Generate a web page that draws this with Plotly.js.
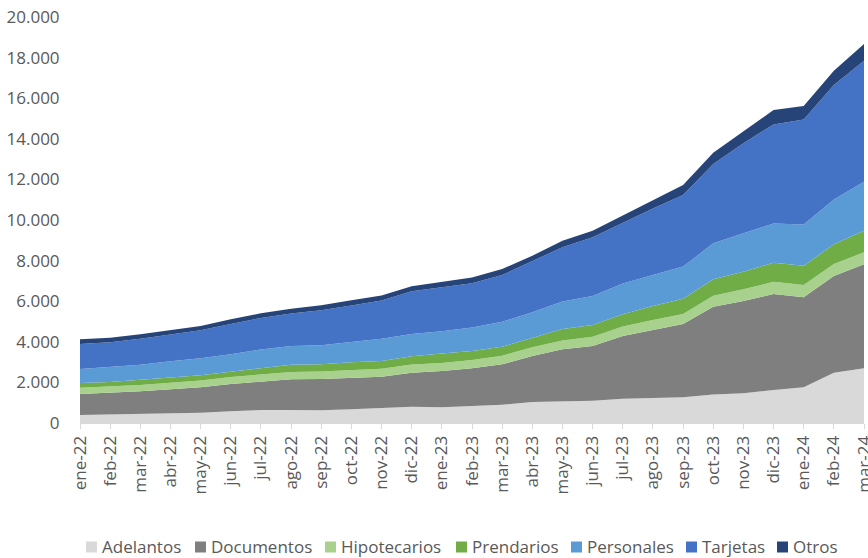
<!DOCTYPE html>
<html>
<head>
<meta charset="utf-8">
<script src="https://cdn.plot.ly/plotly-3.0.1.min.js"></script>
<style>
html,body{margin:0;padding:0;background:#fff;}
#chart{width:868px;height:558px;}
</style>
</head>
<body>
<div id="chart"></div>
<script>
var months = ["ene-22","feb-22","mar-22","abr-22","may-22","jun-22","jul-22","ago-22","sep-22","oct-22","nov-22","dic-22",
              "ene-23","feb-23","mar-23","abr-23","may-23","jun-23","jul-23","ago-23","sep-23","oct-23","nov-23","dic-23",
              "ene-24","feb-24","mar-24"];

var adelantos    = [400,430,440,480,510,575,640,640,625,675,755,805,770,850,900,1035,1050,1100,1200,1245,1265,1410,1460,1625,1755,2480,2695];
var documentos   = [1030,1050,1120,1180,1250,1345,1395,1510,1545,1540,1525,1675,1790,1845,1990,2265,2580,2695,3080,3335,3610,4320,4550,4730,4435,4760,5120];
var hipotecarios = [310,310,315,325,335,345,350,360,370,385,395,400,400,410,425,430,435,455,475,490,500,540,575,600,605,590,595];
var prendarios   = [230,230,250,245,260,265,330,360,360,395,375,410,460,445,445,470,560,580,600,690,740,810,870,940,950,970,1065];
var personales   = [690,740,750,810,830,855,905,920,935,1000,1100,1100,1100,1150,1230,1250,1360,1425,1520,1525,1590,1770,1890,1935,2035,2215,2415];
var tarjetas     = [1230,1215,1270,1310,1380,1495,1555,1610,1725,1795,1890,2100,2165,2185,2300,2510,2675,2895,3000,3285,3530,3910,4435,4880,5175,5635,5960];
var otros        = [230,225,230,230,210,230,230,230,235,260,245,245,265,280,295,280,315,325,350,410,495,555,570,705,655,705,820];

var seriesNames  = ["Adelantos","Documentos","Hipotecarios","Prendarios","Personales","Tarjetas","Otros"];
var seriesValues = [adelantos, documentos, hipotecarios, prendarios, personales, tarjetas, otros];
var colors = ["#d9d9d9","#7f7f7f","#a9d18e","#70ad47","#5b9bd5","#4472c4","#264478"];

var yTicks = [0,2000,4000,6000,8000,10000,12000,14000,16000,18000,20000];
var yTickText = ["0","2.000","4.000","6.000","8.000","10.000","12.000","14.000","16.000","18.000","20.000"];

var FONT = "Open Sans, Noto Sans, sans-serif";
var GREY = "#595959";

var traces = seriesNames.map(function(n, i){
  return {
    type: "scatter",
    x: months,
    y: seriesValues[i],
    name: n,
    stackgroup: "one",
    mode: "lines",
    line: {width: 0, color: colors[i]},
    fillcolor: colors[i],
    showlegend: false,
    hoverinfo: "skip"
  };
});

// custom legend (square + label), positions in pixels
var L = 80, W = 784, T = 17, H = 406;
var legSquareX = [86,195,325,456,571,686,777];
var legY = 546;
var shapes = [], annotations = [];
seriesNames.forEach(function(n, i){
  var x0 = legSquareX[i];
  shapes.push({
    type: "rect", xref: "paper", yref: "paper",
    x0: (x0 - L)/W, x1: (x0 + 11 - L)/W,
    y0: (T + H - (legY + 1 + 5.5))/H, y1: (T + H - (legY + 1 - 5.5))/H,
    fillcolor: colors[i], line: {width: 0}
  });
  annotations.push({
    xref: "paper", yref: "paper",
    x: (x0 + 15 - L)/W, y: (T + H - legY)/H,
    xanchor: "left", yanchor: "middle",
    text: n, showarrow: false, borderpad: 0,
    font: {family: FONT, size: 17, color: GREY}
  });
});

var layout = {
  width: 868, height: 558,
  margin: {l: L, r: 4, t: T, b: 558 - T - H, autoexpand: false},
  paper_bgcolor: "#fff", plot_bgcolor: "#fff",
  showlegend: false,
  hovermode: false,
  xaxis: {
    type: "category",
    range: [0, months.length - 1],
    showgrid: false, zeroline: false,
    showline: true, linecolor: "#d9d9d9", linewidth: 1,
    ticks: "outside", ticklen: 5, tickcolor: "#d9d9d9", tickwidth: 1,
    tickangle: -90,
    tickfont: {family: FONT, size: 17, color: GREY}
  },
  yaxis: {
    range: [0, 20000],
    tickvals: yTicks, ticktext: yTickText,
    showgrid: false, zeroline: false, showline: false,
    ticks: "outside", ticklen: 16, tickcolor: "rgba(0,0,0,0)",
    tickfont: {family: FONT, size: 17, color: GREY}
  },
  shapes: shapes,
  annotations: annotations
};

Plotly.newPlot("chart", traces, layout, {displayModeBar: false, staticPlot: true});
</script>
</body>
</html>
